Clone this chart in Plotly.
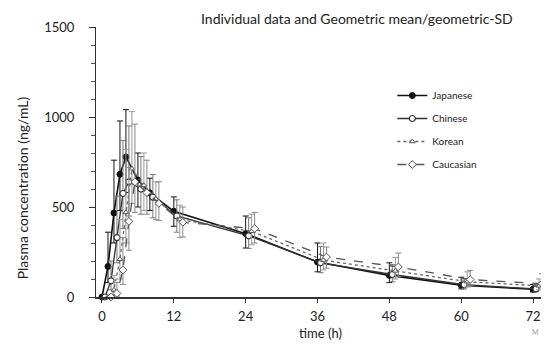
import plotly.graph_objects as go

times = [0, 1, 2, 3, 4, 6, 8, 12, 24, 36, 48, 60, 72]
x_ticks = [0, 12, 24, 36, 48, 60, 72]
y_ticks = [0, 500, 1000, 1500]

series_names = ["Japanese", "Chinese", "Korean", "Caucasian"]
time_offsets = [0.0, 0.5, 1.0, 1.5]

japanese_mean = [0, 170, 467, 682, 778, 650, 578, 476, 352, 194, 120, 65, 43]
japanese_upper = [0, 360, 760, 978, 1041, 800, 660, 556, 450, 300, 190, 110, 70]
japanese_lower = [0, 80, 300, 480, 580, 500, 480, 393, 272, 140, 80, 45, 28]

chinese_mean = [0, 90, 330, 575, 640, 600, 555, 450, 340, 190, 125, 68, 45]
chinese_upper = [0, 200, 560, 870, 950, 780, 680, 540, 440, 280, 180, 100, 70]
chinese_lower = [0, 40, 190, 380, 450, 460, 440, 360, 270, 135, 85, 45, 30]

korean_mean = [0, 40, 210, 470, 713, 620, 545, 430, 365, 205, 145, 85, 62]
korean_upper = [0, 120, 430, 820, 1030, 800, 640, 510, 460, 300, 220, 140, 100]
korean_lower = [0, 10, 100, 300, 520, 480, 430, 330, 290, 150, 100, 55, 40]

caucasian_mean = [0, 20, 150, 420, 640, 580, 520, 415, 380, 222, 167, 97, 74]
caucasian_upper = [0, 80, 330, 720, 960, 760, 640, 500, 470, 278, 244, 148, 130]
caucasian_lower = [0, 5, 70, 260, 470, 460, 426, 333, 300, 160, 115, 65, 50]

means = [japanese_mean, chinese_mean, korean_mean, caucasian_mean]
uppers = [japanese_upper, chinese_upper, korean_upper, caucasian_upper]
lowers = [japanese_lower, chinese_lower, korean_lower, caucasian_lower]

styles = [
    dict(line=dict(color="#111111", width=1.6, dash="solid"),
         marker=dict(symbol="circle", size=6, color="#111111", line=dict(color="#111111", width=1)),
         err="#111111"),
    dict(line=dict(color="#333333", width=1.3, dash="solid"),
         marker=dict(symbol="circle", size=6, color="white", line=dict(color="#333333", width=1.2)),
         err="#777777"),
    dict(line=dict(color="#666666", width=1.3, dash="dot"),
         marker=dict(symbol="triangle-up", size=5, color="white", line=dict(color="#555555", width=1)),
         err="#999999"),
    dict(line=dict(color="#555555", width=1.3, dash="dash"),
         marker=dict(symbol="diamond", size=6, color="white", line=dict(color="#555555", width=1)),
         err="#888888"),
]

fig = go.Figure()
for name, off, m, up, lo, st in zip(series_names, time_offsets, means, uppers, lowers, styles):
    xs = [t + off for t in times]
    fig.add_trace(go.Scatter(
        x=xs, y=m, name=name, mode="lines+markers",
        line=st["line"], marker=st["marker"], cliponaxis=False,
        legendgroup=name,
        error_y=dict(type="data", symmetric=False,
                     array=[u - v for u, v in zip(up, m)],
                     arrayminus=[v - l for v, l in zip(m, lo)],
                     color=st["err"], thickness=1, width=3),
    ))

# page body has an 8px margin, so the figure is 8px smaller than the window
fig.update_layout(
    width=541, height=341,
    margin=dict(l=88, r=4, t=19, b=52, autoexpand=False),
    paper_bgcolor="white", plot_bgcolor="white",
    font=dict(family="Lato, Open Sans, sans-serif", color="#222222", size=12),
    showlegend=True,
    legend=dict(x=0.66, y=0.80, xanchor="left", yanchor="top",
                font=dict(size=10, color="#222222"), bgcolor="rgba(0,0,0,0)",
                tracegroupgap=4, itemwidth=30),
    xaxis=dict(range=[-1, 74], tickvals=x_ticks, ticktext=[str(v) for v in x_ticks],
               showgrid=False, zeroline=False, showline=True, linecolor="#333333", linewidth=1.5,
               ticks="outside", ticklen=4, tickcolor="#333333",
               tickfont=dict(size=13), ticklabelstandoff=3, automargin=False,
               title=dict(text="time (h)", font=dict(size=13), standoff=6)),
    yaxis=dict(range=[0, 1500], tickvals=y_ticks, ticktext=[str(v) for v in y_ticks],
               showgrid=False, zeroline=False, showline=True, linecolor="#333333", linewidth=1,
               ticks="outside", ticklen=6, tickcolor="#333333",
               minor=dict(dtick=100, ticks="outside", ticklen=4, tickcolor="#555555"),
               tickfont=dict(size=13), ticklabelstandoff=12, automargin=False),
)

fig.add_annotation(text="Plasma concentration (ng/mL)", textangle=-90,
                   xref="paper", yref="paper", x=-0.165, y=0.406, xanchor="center", yanchor="middle",
                   showarrow=False, font=dict(size=14, color="#222222"))
fig.add_annotation(text="Individual data and Geometric mean/geometric-SD",
                   xref="paper", yref="paper", x=0.934, y=1.032, xanchor="right", yanchor="middle",
                   showarrow=False, font=dict(size=14, color="#222222"))
fig.add_annotation(text="M", xref="paper", yref="paper", x=0.992, y=-0.153,
                   showarrow=False, font=dict(size=7, color="#999999"))

fig.write_html("out.html")
